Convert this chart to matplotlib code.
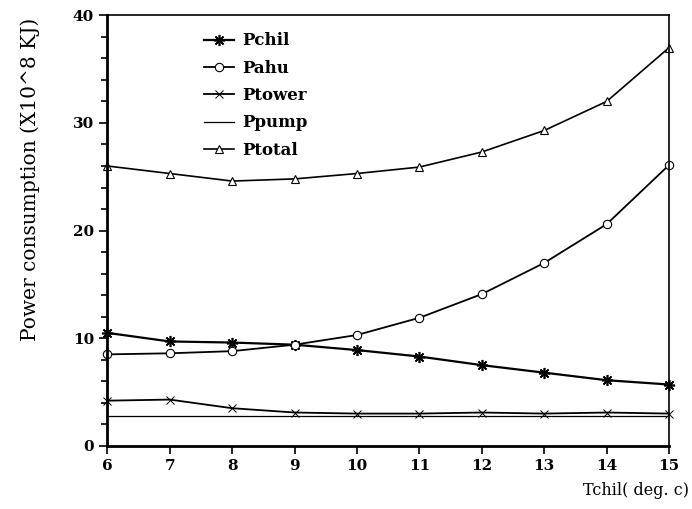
import matplotlib
matplotlib.use('Agg')
from matplotlib import pyplot as plt
from matplotlib.ticker import MultipleLocator

tchil = [6, 7, 8, 9, 10, 11, 12, 13, 14, 15]
pchil = [10.5, 9.7, 9.6, 9.4, 8.9, 8.3, 7.5, 6.8, 6.1, 5.7]
pahu = [8.5, 8.6, 8.8, 9.4, 10.3, 11.9, 14.1, 17.0, 20.6, 26.1]
ptower = [4.2, 4.3, 3.5, 3.1, 3.0, 3.0, 3.1, 3.0, 3.1, 3.0]
ppump = [2.8, 2.8, 2.8, 2.8, 2.8, 2.8, 2.8, 2.8, 2.8, 2.8]
ptotal = [26.0, 25.3, 24.6, 24.8, 25.3, 25.9, 27.3, 29.3, 32.0, 37.0]

plt.rcParams['font.family'] = 'DejaVu Serif'

fig = plt.figure(figsize=(6.92, 5.09), dpi=100)
ax = fig.add_axes([0.155, 0.124, 0.812, 0.846])

ax.plot(tchil, pchil, color='black', lw=1.6, marker=(8, 2, 0), ms=8,
        mew=1.2, label='Pchil', clip_on=False)
ax.plot(tchil, pahu, color='black', lw=1.3, marker='o', ms=6, mfc='white',
        mew=0.8, label='Pahu', clip_on=False)
ax.plot(tchil, ptower, color='black', lw=1.3, marker='x', ms=5.5, mew=0.7,
        label='Ptower', clip_on=False)
ax.plot(tchil, ppump, color='black', lw=0.9, label='Ppump')
ax.plot(tchil, ptotal, color='black', lw=1.2, marker='^', ms=6, mfc='white',
        mew=0.8, label='Ptotal', clip_on=False)

ax.set_xlim(6, 15)
ax.set_ylim(0, 40)
ax.xaxis.set_major_locator(MultipleLocator(1))
ax.yaxis.set_major_locator(MultipleLocator(10))
ax.yaxis.set_minor_locator(MultipleLocator(2))
ax.tick_params(axis='both', which='both', direction='out', width=1.2)
ax.tick_params(axis='both', which='major', length=6, labelsize=11)
ax.tick_params(axis='y', which='minor', length=4)
for lab in ax.get_xticklabels() + ax.get_yticklabels():
    lab.set_fontweight('bold')
for side in ['left', 'bottom']:
    ax.spines[side].set_linewidth(2.0)
for side in ['top', 'right']:
    ax.spines[side].set_linewidth(1.2)

ax.set_ylabel('Power consumption (X10^8 KJ)', fontsize=14.5)
ax.yaxis.set_label_coords(-0.12, 0.62)
fig.text(0.995, 0.02, 'Tchil( deg. c)', fontsize=11.5, ha='right', va='bottom')

leg = ax.legend(loc='upper left', bbox_to_anchor=(0.145, 0.995), frameon=False,
                handlelength=1.8, handletextpad=0.5, labelspacing=0.62,
                prop={'size': 12, 'weight': 'bold'})

fig.savefig('out.png', dpi=100)
